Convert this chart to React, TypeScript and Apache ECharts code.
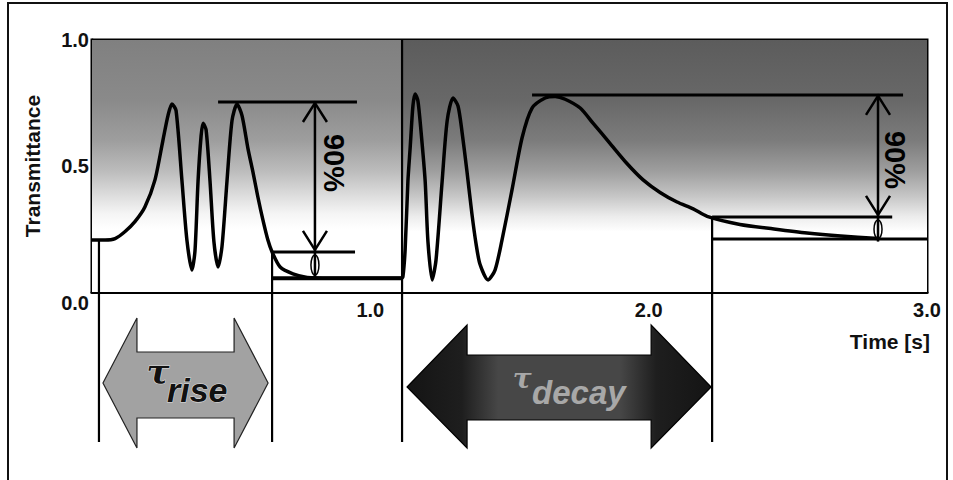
import React, { useEffect, useRef } from "react";
import * as echarts from "echarts";

// ---- data (time in s, transmittance 0..1) ----
const curveTime = [
  0, 0.047, 0.083, 0.119, 0.155, 0.19, 0.226, 0.255, 0.273, 0.287, 0.302, 0.323, 0.341, 0.359, 0.37,
  0.381, 0.392, 0.399, 0.41, 0.424, 0.438, 0.453, 0.467, 0.485, 0.503, 0.521, 0.539, 0.56, 0.579, 0.596,
  0.614, 0.632, 0.647, 0.676, 0.722, 0.773, 0.855, 1.112, 1.117, 1.125, 1.135, 1.143, 1.153, 1.161,
  1.171, 1.182, 1.197, 1.207, 1.222, 1.236, 1.258, 1.276, 1.297, 1.315, 1.329, 1.347, 1.365, 1.38,
  1.394, 1.423, 1.448, 1.473, 1.509, 1.545, 1.581, 1.628, 1.664, 1.7, 1.754, 1.8, 1.861, 1.922,
  1.98, 2.041, 2.102, 2.16, 2.21, 2.328, 2.45, 2.569, 2.69, 2.824,
];
const curveTrans = [
  0.206, 0.206, 0.212, 0.24, 0.28, 0.337, 0.444, 0.603, 0.7, 0.746, 0.72, 0.444, 0.206, 0.087, 0.163,
  0.44, 0.62, 0.67, 0.643, 0.44, 0.2, 0.099, 0.18, 0.44, 0.68, 0.746, 0.7, 0.571, 0.472, 0.377,
  0.286, 0.206, 0.159, 0.099, 0.072, 0.058, 0.055, 0.055, 0.06, 0.167, 0.44, 0.571, 0.738, 0.786,
  0.758, 0.639, 0.44, 0.2, 0.048, 0.127, 0.44, 0.679, 0.77, 0.738, 0.639, 0.48, 0.31, 0.19,
  0.11, 0.048, 0.087, 0.206, 0.405, 0.611, 0.73, 0.77, 0.776, 0.765, 0.73, 0.67, 0.59, 0.51,
  0.445, 0.395, 0.357, 0.33, 0.3, 0.268, 0.25, 0.234, 0.222, 0.212,
];

const xTickValues = [0, 1, 2, 3];
const yTickValues = [0, 0.5, 1];
const xAxisTitle = "Time [s]";
const yAxisTitle = "Transmittance";

// light-on / light-off zones
const zoneBounds = [0, 1.114, 3];

// guide lines: [t1, T1, t2, T2]
const riseGuides = [
  [0.453, 0.754, 0.952, 0.754],
  [0.647, 0.159, 0.945, 0.159],
  [0.647, 0.055, 1.114, 0.055],
];
const decayGuides = [
  [1.581, 0.782, 2.914, 0.782],
  [2.228, 0.298, 2.875, 0.298],
  [2.228, 0.21, 3.0, 0.21],
];
// 90% arrows: [t, top T, mid T, bottom T]
const percentArrows = [
  [0.801, 0.754, 0.159, 0.055],
  [2.824, 0.782, 0.298, 0.2],
];
const percentLabel = "90%";
// vertical event markers: [t, top T]
const eventMarkers = [
  [0.025, 0.206],
  [0.647, 0.159],
  [1.114, 1.0],
  [2.228, 0.298],
];
// time spans of the two double arrows
const riseSpan = [0.025, 0.647];
const decaySpan = [1.114, 2.228];
const tauLabels = ["rise", "decay"];

const FONT = '"Liberation Sans", Arial, sans-serif';

export default function App() {
  const ref = useRef<HTMLDivElement>(null);

  useEffect(() => {
    if (!ref.current) return;
    const chart = echarts.init(ref.current, null, { renderer: "svg" });

    const guideSeries = [...riseGuides, ...decayGuides].map((g, i) => ({
      type: "line",
      data: [
        [g[0], g[1]],
        [g[2], g[3]],
      ],
      symbol: "none",
      silent: true,
      z: 4,
      clip: false,
      lineStyle: { color: "#000", width: i === 2 ? 4 : 3 },
    }));

    const leftGrad = new echarts.graphic.LinearGradient(0, 0, 0, 1, [
      { offset: 0, color: "#808080" },
      { offset: 0.24, color: "#8a8a8a" },
      { offset: 0.4, color: "#9e9e9e" },
      { offset: 0.52, color: "#bcbcbc" },
      { offset: 0.62, color: "#dedede" },
      { offset: 0.69, color: "#f5f5f5" },
      { offset: 0.75, color: "#ffffff" },
      { offset: 1, color: "#ffffff" },
    ]);
    const rightGrad = new echarts.graphic.LinearGradient(0, 0, 0, 1, [
      { offset: 0, color: "#5c5c5c" },
      { offset: 0.24, color: "#686868" },
      { offset: 0.4, color: "#7c7c7c" },
      { offset: 0.52, color: "#9e9e9e" },
      { offset: 0.62, color: "#c6c6c6" },
      { offset: 0.7, color: "#ececec" },
      { offset: 0.76, color: "#ffffff" },
      { offset: 1, color: "#ffffff" },
    ]);

    chart.setOption({
      animation: false,
      backgroundColor: "#fff",
      grid: {
        left: 92,
        right: 26,
        top: 40,
        bottom: 188,
        show: true,
        borderColor: "#000",
        borderWidth: 3,
        backgroundColor: "transparent",
      },
      xAxis: {
        type: "value",
        min: 0,
        max: 3,
        interval: 1,
        name: xAxisTitle,
        nameLocation: "end",
        nameGap: 3,
        nameTextStyle: {
          fontFamily: FONT,
          fontWeight: "bold",
          fontSize: 21,
          color: "#111",
          align: "right",
          verticalAlign: "top",
          padding: [39, 0, 0, 0],
        },
        axisLine: { lineStyle: { color: "#000", width: 3 } },
        axisTick: { show: false },
        splitLine: { show: false },
        axisLabel: {
          margin: 8,
          fontFamily: FONT,
          fontWeight: "bold",
          fontSize: 20,
          color: "#111",
          formatter: (v: number) => (v === 0 ? "" : v.toFixed(1)),
        },
      },
      yAxis: {
        type: "value",
        min: 0,
        max: 1,
        interval: 0.5,
        name: yAxisTitle,
        nameLocation: "middle",
        nameGap: 49,
        nameRotate: 90,
        nameTextStyle: { fontFamily: FONT, fontWeight: "bold", fontSize: 21, color: "#111" },
        axisLine: { lineStyle: { color: "#000", width: 3 } },
        axisTick: { show: false },
        splitLine: { show: false },
        axisLabel: {
          margin: 3,
          fontFamily: FONT,
          fontWeight: "bold",
          fontSize: 20,
          color: "#111",
          formatter: (v: number) => (v === 0 ? "{z|0.0}" : v.toFixed(1)),
          rich: {
            z: {
              fontFamily: FONT,
              fontWeight: "bold",
              fontSize: 20,
              color: "#111",
              padding: [22, 0, 0, 0],
            },
          },
        },
      },
      series: [
        {
          type: "line",
          data: [],
          z: 0,
          silent: true,
          markArea: {
            silent: true,
            data: [
              [
                { xAxis: zoneBounds[0], yAxis: 0, itemStyle: { color: leftGrad } },
                { xAxis: zoneBounds[1], yAxis: 1 },
              ],
              [
                { xAxis: zoneBounds[1], yAxis: 0, itemStyle: { color: rightGrad } },
                { xAxis: zoneBounds[2], yAxis: 1 },
              ],
            ],
          },
        },
        ...guideSeries,
        {
          type: "line",
          data: curveTime.map((t, i) => [t, curveTrans[i]]),
          symbol: "none",
          smooth: 0.25,
          z: 5,
          lineStyle: { color: "#000", width: 3.5, join: "round" },
        },
      ],
    });

    const px = (t: number, T: number) =>
      chart.convertToPixel({ xAxisIndex: 0, yAxisIndex: 0 }, [t, T]) as number[];

    const g: any[] = [];
    // outer frame of figure
    g.push({
      type: "rect",
      shape: { x: 8, y: 3, width: 939, height: 540 },
      style: { fill: "none", stroke: "#111", lineWidth: 2 },
      silent: true,
    });

    // vertical event markers, extending below the axis
    eventMarkers.forEach(([t, top]) => {
      const [x, y] = px(t, top);
      g.push({
        type: "line",
        shape: { x1: x, y1: y, x2: x, y2: 442 },
        style: { stroke: "#000", lineWidth: 2.2 },
        z: 10,
        silent: true,
      });
    });

    // 90% double arrows
    percentArrows.forEach(([t, top, mid, bot], i) => {
      const [x, yTop] = px(t, top);
      const [, yMid] = px(t, mid);
      const [, yBot] = px(t, bot);
      const ls = { stroke: "#000", lineWidth: 2.5, fill: "none" };
      g.push({ type: "line", shape: { x1: x, y1: yTop, x2: x, y2: yBot }, style: ls, z: 10 });
      g.push({
        type: "polyline",
        shape: { points: [[x - 12, yTop + 20], [x, yTop + 1], [x + 12, yTop + 20]] },
        style: ls,
        z: 10,
      });
      g.push({
        type: "polyline",
        shape: { points: [[x - 12, yMid - 21], [x, yMid - 2], [x + 12, yMid - 21]] },
        style: ls,
        z: 10,
      });
      g.push({
        type: "ellipse",
        shape: { cx: x, cy: (yMid + yBot) / 2, rx: 4, ry: (yBot - yMid) / 2 - 3 },
        style: { stroke: "#000", lineWidth: 1.5, fill: "none" },
        z: 10,
      });
      const midY = (yTop + yMid) / 2;
      g.push({
        type: "text",
        x: x + (i === 0 ? 19 : 17),
        y: midY + (i === 0 ? -14 : 4),
        rotation: -Math.PI / 2,
        z: 11,
        style: {
          text: percentLabel,
          x: 0,
          y: 0,
          align: "center",
          verticalAlign: "middle",
          fontFamily: FONT,
          fontWeight: "bold",
          fontSize: 29,
          fill: "#000",
        },
      });
    });

    // τ double arrows below the axis
    const arrowPoly = (xl: number, xr: number, hw: number, yMid: number, yT: number, yB: number, sT: number, sB: number) => [
      [xl, yMid],
      [xl + hw, yT],
      [xl + hw, sT],
      [xr - hw, sT],
      [xr - hw, yT],
      [xr, yMid],
      [xr - hw, yB],
      [xr - hw, sB],
      [xl + hw, sB],
      [xl + hw, yB],
    ];
    {
      const xl = px(riseSpan[0], 0)[0] + 4;
      const xr = px(riseSpan[1], 0)[0] - 4;
      g.push({
        type: "polygon",
        shape: { points: arrowPoly(xl, xr, 34, 383, 318, 448, 352, 418) },
        style: { fill: "#a2a2a2", stroke: "#222", lineWidth: 1.2 },
        z: 9,
      });
      g.push({
        type: "text",
        z: 12,
        style: {
          text: "τ",
          x: xl + 55,
          y: 372,
          align: "center",
          verticalAlign: "middle",
          fontFamily: '"DejaVu Serif", serif',
          fontStyle: "italic",
          fontWeight: "bold",
          fontSize: 34,
          fill: "#111",
          stroke: "#e0e0e0",
          lineWidth: 1,
        },
      });
      g.push({
        type: "text",
        z: 12,
        style: {
          text: tauLabels[0],
          x: xl + 64,
          y: 390,
          align: "left",
          verticalAlign: "middle",
          fontFamily: FONT,
          fontStyle: "italic",
          fontWeight: "bold",
          fontSize: 34,
          fill: "#111",
          stroke: "#e0e0e0",
          lineWidth: 1,
        },
      });
    }
    {
      const xl = px(decaySpan[0], 0)[0] + 5;
      const xr = px(decaySpan[1], 0)[0] - 1;
      const fill = new echarts.graphic.LinearGradient(0, 0, 1, 0, [
        { offset: 0, color: "#141414" },
        { offset: 0.18, color: "#1e1e1e" },
        { offset: 0.3, color: "#474747" },
        { offset: 0.7, color: "#474747" },
        { offset: 0.82, color: "#1e1e1e" },
        { offset: 1, color: "#141414" },
      ]);
      g.push({
        type: "polygon",
        shape: { points: arrowPoly(xl, xr, 60, 387, 325, 448, 355, 420) },
        style: { fill, stroke: "#000", lineWidth: 1.2 },
        z: 9,
      });
      g.push({
        type: "text",
        z: 12,
        style: {
          text: "τ",
          x: xl + 115,
          y: 378,
          align: "center",
          verticalAlign: "middle",
          fontFamily: '"DejaVu Serif", serif',
          fontStyle: "italic",
          fontWeight: "bold",
          fontSize: 28,
          fill: "#a8a8a8",
        },
      });
      g.push({
        type: "text",
        z: 12,
        style: {
          text: tauLabels[1],
          x: xl + 125,
          y: 392,
          align: "left",
          verticalAlign: "middle",
          fontFamily: FONT,
          fontStyle: "italic",
          fontWeight: "bold",
          fontSize: 33,
          fill: "#a8a8a8",
        },
      });
    }

    chart.setOption({ graphic: g });

    return () => chart.dispose();
  }, []);

  return <div ref={ref} style={{ width: 953, height: 480, position: "absolute", left: 0, top: 0 }} />;
}
